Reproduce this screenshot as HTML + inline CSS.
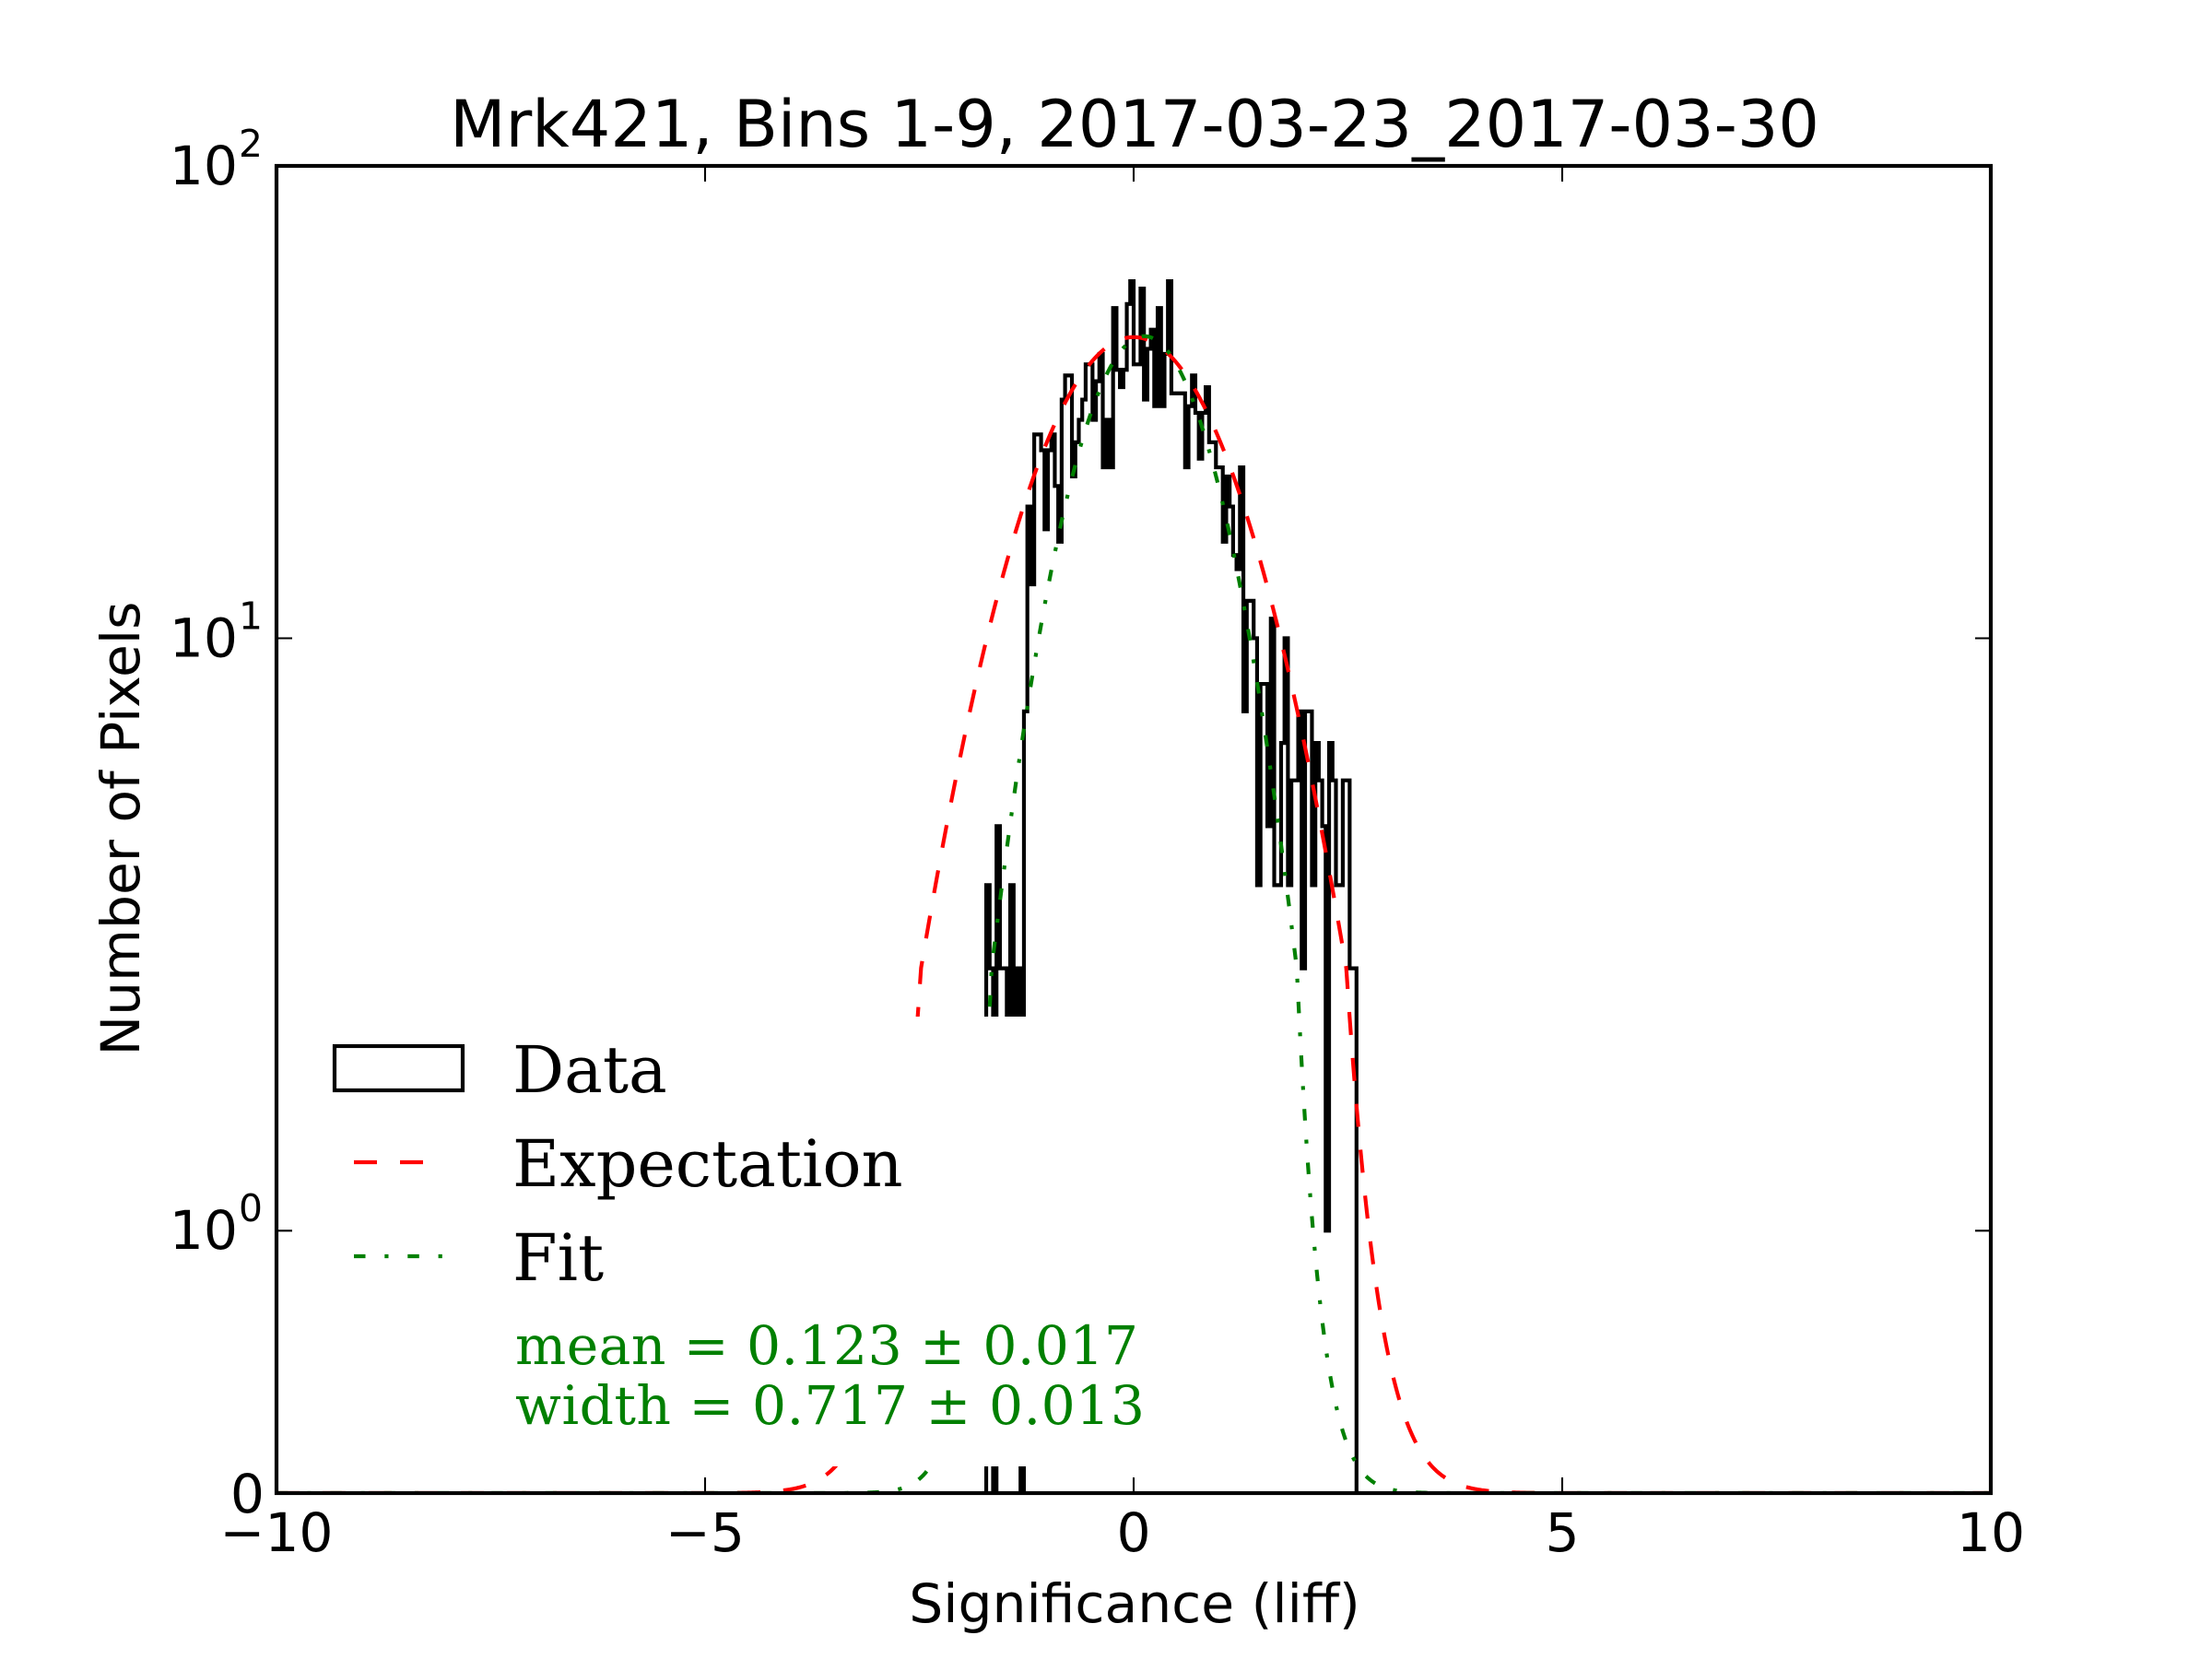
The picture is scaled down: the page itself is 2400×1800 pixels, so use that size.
<!DOCTYPE html>
<html><head><meta charset="utf-8">
<style>
html,body{margin:0;padding:0;background:#fff;}
svg{display:block;}
.s{font-family:"DejaVu Sans","Liberation Sans",sans-serif;fill:#000;}
.r{font-family:"DejaVu Serif","Liberation Serif",serif;}
</style></head>
<body>
<svg width="2400" height="1800" viewBox="0 0 2400 1800" xmlns="http://www.w3.org/2000/svg">
<rect width="2400" height="1800" fill="#fff"/>
<defs><clipPath id="ax"><rect x="300" y="180" width="1860" height="1440"/></clipPath></defs>
<g clip-path="url(#ax)">
<path id="hist" fill="none" stroke="#000" stroke-width="4.17" stroke-linejoin="miter" d=""/>
<path id="exp" fill="none" stroke="#ff0000" stroke-width="4.17" stroke-dasharray="25 25" d=""/>
<path id="fit" fill="none" stroke="#008000" stroke-width="4.17" stroke-dasharray="12.5 20.8 4.2 20.8" d=""/>
</g>
<!-- ticks -->
<g stroke="#000" stroke-width="2.08">
<line x1="765" y1="1620" x2="765" y2="1603"/><line x1="1230" y1="1620" x2="1230" y2="1603"/><line x1="1695" y1="1620" x2="1695" y2="1603"/>
<line x1="765" y1="180" x2="765" y2="197"/><line x1="1230" y1="180" x2="1230" y2="197"/><line x1="1695" y1="180" x2="1695" y2="197"/>
<line x1="300" y1="692.5" x2="317" y2="692.5"/><line x1="300" y1="1335.3" x2="317" y2="1335.3"/>
<line x1="2160" y1="692.5" x2="2143" y2="692.5"/><line x1="2160" y1="1335.3" x2="2143" y2="1335.3"/>
</g>
<!-- spines -->
<rect x="300" y="180" width="1860" height="1440" fill="none" stroke="#000" stroke-width="4.17"/>
<!-- title -->
<text class="s" x="1231" y="159" font-size="70" text-anchor="middle">Mrk421, Bins 1-9, 2017-03-23_2017-03-30</text>
<!-- x tick labels -->
<g class="s" font-size="58.33" text-anchor="middle">
<text x="300" y="1683">−10</text>
<text x="765" y="1683">−5</text>
<text x="1230" y="1683">0</text>
<text x="1695" y="1683">5</text>
<text x="2160" y="1683">10</text>
</g>
<!-- y tick labels -->
<g class="s" font-size="58.33">
<text x="258" y="200" text-anchor="end">10</text><text x="259" y="170" font-size="40.8">2</text>
<text x="258" y="712.5" text-anchor="end">10</text><text x="259" y="682.5" font-size="40.8">1</text>
<text x="258" y="1355" text-anchor="end">10</text><text x="259" y="1325" font-size="40.8">0</text>
<text x="287" y="1641" text-anchor="end">0</text>
</g>
<!-- axis labels -->
<text class="s" x="1231" y="1760" font-size="58.33" text-anchor="middle">Significance (liff)</text>
<text class="s" x="0" y="0" font-size="58.33" text-anchor="middle" transform="translate(151,899) rotate(-90)">Number of Pixels</text>
<!-- legend -->
<rect x="330" y="1103" width="932" height="488" fill="#fff"/>
<rect x="363" y="1135" width="139" height="48" fill="none" stroke="#000" stroke-width="4.17"/>
<line x1="384" y1="1261" x2="481" y2="1261" stroke="#ff0000" stroke-width="4.17" stroke-dasharray="25 25"/>
<line x1="384" y1="1363" x2="481" y2="1363" stroke="#008000" stroke-width="4.17" stroke-dasharray="12.5 20.8 4.2 20.8"/>
<g class="r" font-size="70" fill="#000">
<text x="556" y="1185">Data</text>
<text x="556" y="1287">Expectation</text>
<text x="556" y="1389">Fit</text>
</g>
<g class="r" font-size="58.33" fill="#008000">
<text x="559" y="1480" textLength="676" lengthAdjust="spacing">mean = 0.123 ± 0.017</text>
<text x="559" y="1545" textLength="683" lengthAdjust="spacing">width = 0.717 ± 0.013</text>
</g>
</svg>
<script>
(function(){
function yP(v){var T = v<=2 ? v*10/9 : 2*(10/9+Math.log10(v/2)); return 1620 - T*256.22;}
function xP(x){return 1230+93*x;}
var vals=[0,3,2,0,4,2,2,1,3,1,2,0,7,19,13,27,27,25,17,25,27,21,16,32,36,36,22,26,29,32,38,38,29,35,40,23,29,23,50,37,34,37,51,57,38,38,55,32,41,45,31,50,31,40,57,33,33,33,33,23,31,36,30,24,30,34,26,26,23,23,16,22,19,15,14,23,7,12,12,10,3,8,8,4,11,3,3,6,10,3,5,5,7,2,7,7,3,6,5,4,1,6,5,3,3,5,5,2,2,0];
var k0=206, w=3.72;
var d='M'+(300+w*k0).toFixed(2)+' 1620';
var xr=0;
for(var i=0;i<vals.length;i++){
  var xl=300+w*(k0+i); xr=xl+w; var y=yP(vals[i]).toFixed(2);
  d+=' L'+xl.toFixed(2)+' '+y+' L'+xr.toFixed(2)+' '+y;
}
d+=' L'+xr.toFixed(2)+' 1620';
document.getElementById('hist').setAttribute('d',d);
function curve(A,m,s){
  var p='';
  for(var x=-10;x<=10.0001;x+=0.01){
    var v=A*Math.exp(-0.5*Math.pow((x-m)/s,2));
    p+=(p?' L':'M')+xP(x).toFixed(2)+' '+yP(v).toFixed(2);
  }
  return p;
}
document.getElementById('exp').setAttribute('d',curve(43.4,0,1));
document.getElementById('fit').setAttribute('d',curve(43.6,0.123,0.717));
})();
</script>
</body></html>
